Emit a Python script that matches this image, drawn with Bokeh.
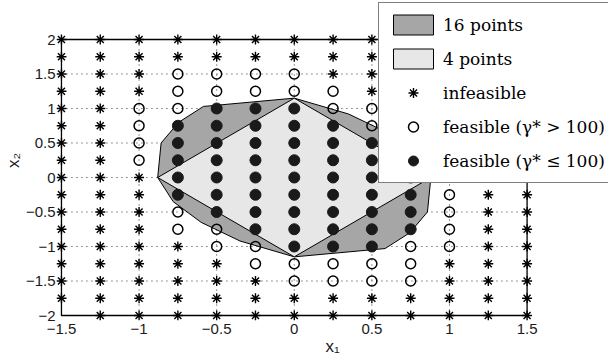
from bokeh.plotting import figure
from bokeh.models import Range1d, Legend, LegendItem, FixedTicker
from bokeh.embed import file_html
from bokeh.resources import INLINE

# ---------------- data ----------------
x_grid = [-1.5, -1.25, -1.0, -0.75, -0.5, -0.25, 0.0, 0.25, 0.5, 0.75, 1.0, 1.25, 1.5]
y_grid = [2.0, 1.75, 1.5, 1.25, 1.0, 0.75, 0.5, 0.25, 0.0,
          -0.25, -0.5, -0.75, -1.0, -1.25, -1.5, -1.75, -2.0]
# '*' infeasible, 'o' feasible (gamma* > 100), '@' feasible (gamma* <= 100), '.' no point
status_rows = [
    "*************",
    "*************",
    "***oooo******",
    "***ooooo*****",
    "**oo@@@oo****",
    "**o@@@@@oo***",
    "**o@@@@@@o***",
    "**o@@@@@@@***",
    "***@@@@@@@***",
    "***@@@@@@@o**",
    "***o@@@@@@o**",
    "***oo@@@@@o**",
    "****oo@@@oo**",
    "*****ooooo***",
    "******oooo***",
    "*************",
    ".************",
]

dark_x = [0.88, 0.78, 0.60, 0.35, 0.0, -0.585, -0.745, -0.858,
          -0.88, -0.78, -0.60, -0.35, 0.0, 0.585, 0.745, 0.858]
dark_y = [0.0, 0.35, 0.65, 0.92, 1.15, 1.03, 0.80, 0.50,
          0.0, -0.35, -0.65, -0.92, -1.15, -1.03, -0.80, -0.50]
light_x = [0.88, 0.0, -0.88, 0.0]
light_y = [0.0, 1.15, 0.0, -1.15]

x_lim = [-1.5, 1.5]
y_lim = [-2.0, 2.0]
x_ticks = [-1.5, -1.0, -0.5, 0.0, 0.5, 1.0, 1.5]
x_tick_labels = ["\u22121.5", "\u22121", "\u22120.5", "0", "0.5", "1", "1.5"]
y_ticks = [-2.0, -1.5, -1.0, -0.5, 0.0, 0.5, 1.0, 1.5, 2.0]
y_tick_labels = ["\u22122", "\u22121.5", "\u22121", "\u22120.5", "0", "0.5", "1", "1.5", "2"]
x_title = "x\u2081"
y_title = "x\u2082"

legend_labels = ["16 points", "4 points", "infeasible",
                 "feasible (\u03b3* > 100)", "feasible (\u03b3* \u2264 100)"]

# ---------------- split points ----------------
xs_inf, ys_inf, xs_open, ys_open, xs_fill, ys_fill = [], [], [], [], [], []
for yv, row in zip(y_grid, status_rows):
    for xv, ch in zip(x_grid, row):
        if ch == "*":
            xs_inf.append(xv); ys_inf.append(yv)
        elif ch == "o":
            xs_open.append(xv); ys_open.append(yv)
        elif ch == "@":
            xs_fill.append(xv); ys_fill.append(yv)

# ---------------- layout (pixels) ----------------
W, H = 608, 358
frame_l, frame_r, frame_t, frame_b = 52, 608, 0, 320
box_l, box_r, box_t, box_b = 57, 526, 39, 315
sx = (box_r - box_l) / (x_lim[1] - x_lim[0])
sy = (box_b - box_t) / (y_lim[1] - y_lim[0])
x_range = Range1d(x_lim[0] - (box_l - frame_l) / sx, x_lim[1] + (frame_r - box_r) / sx)
y_range = Range1d(y_lim[0] - (frame_b - box_b) / sy, y_lim[1] + (box_t - frame_t) / sy)

p = figure(width=W, height=H, x_range=x_range, y_range=y_range,
           output_backend="svg", toolbar_location=None,
           min_border_left=frame_l, min_border_right=W - frame_r,
           min_border_top=frame_t, min_border_bottom=H - frame_b)
p.outline_line_color = None
p.grid.visible = False
p.background_fill_color = "white"
p.border_fill_color = "white"

for ax, ticks, labels, standoff, title in ((p.xaxis[0], x_ticks, x_tick_labels, 3, x_title),
                                           (p.yaxis[0], y_ticks, y_tick_labels, 1, y_title)):
    ax.ticker = FixedTicker(ticks=ticks)
    ax.major_label_overrides = {t: l for t, l in zip(ticks, labels)}
    ax.axis_line_color = None
    ax.major_tick_line_color = None
    ax.minor_tick_line_color = None
    ax.major_tick_in = 0
    ax.major_tick_out = 0
    ax.minor_tick_in = 0
    ax.minor_tick_out = 0
    ax.major_label_standoff = standoff
    ax.major_label_text_font = "Liberation Sans"
    ax.major_label_text_font_size = "15px"
    ax.major_label_text_color = "#1a1a1a"
    ax.axis_label = title
    ax.axis_label_text_font = "Liberation Sans"
    ax.axis_label_text_font_size = "17px"
    ax.axis_label_text_font_style = "normal"
    ax.axis_label_text_color = "#1a1a1a"
    ax.axis_label_standoff = 0

# dotted grid lines inside the box
gx = [t for t in x_ticks if x_lim[0] < t < x_lim[1]]
gy = [t for t in y_ticks if y_lim[0] < t < y_lim[1]]
p.segment(x0=gx, y0=[y_lim[0]] * len(gx), x1=gx, y1=[y_lim[1]] * len(gx),
          line_color="#333333", line_dash="1 4", line_width=1)
p.segment(x0=[x_lim[0]] * len(gy), y0=gy, x1=[x_lim[1]] * len(gy), y1=gy,
          line_color="#333333", line_dash="1 4", line_width=1)

dark = p.patch(dark_x, dark_y, fill_color="#a6a6a6", line_color="black", line_width=1)
light = p.patch(light_x, light_y, fill_color="#e6e7e6", line_color="black", line_width=1)

# axes box
p.quad(left=[x_lim[0]], right=[x_lim[1]], bottom=[y_lim[0]], top=[y_lim[1]],
       fill_color=None, line_color="black", line_width=1.3)

r_inf = p.scatter(xs_inf, ys_inf, marker="asterisk", size=10,
                  line_color="black", line_width=1.4)
r_open = p.scatter(xs_open, ys_open, marker="circle", size=10,
                   fill_color=None, line_color="black", line_width=1.5)
r_fill = p.scatter(xs_fill, ys_fill, marker="circle", size=11,
                   fill_color="#1a1a1a", line_color="#1a1a1a")

# legend box: left 374 px, bottom 183 px (relative to frame bottom-left)
legend = Legend(items=[LegendItem(label=lab, renderers=[r])
                       for lab, r in zip(legend_labels, [dark, light, r_inf, r_open, r_fill])],
                location=(374 - frame_l, frame_b - 183), padding=9, spacing=9, margin=0,
                glyph_width=50, glyph_height=25, label_height=25,
                label_standoff=5, label_width=170,
                label_text_font="DejaVu Serif", label_text_font_size="17px",
                label_text_color="black",
                border_line_color="black", border_line_width=1,
                background_fill_color="white", background_fill_alpha=1.0)
p.add_layout(legend)

open("out.html", "w").write(file_html(p, INLINE))
